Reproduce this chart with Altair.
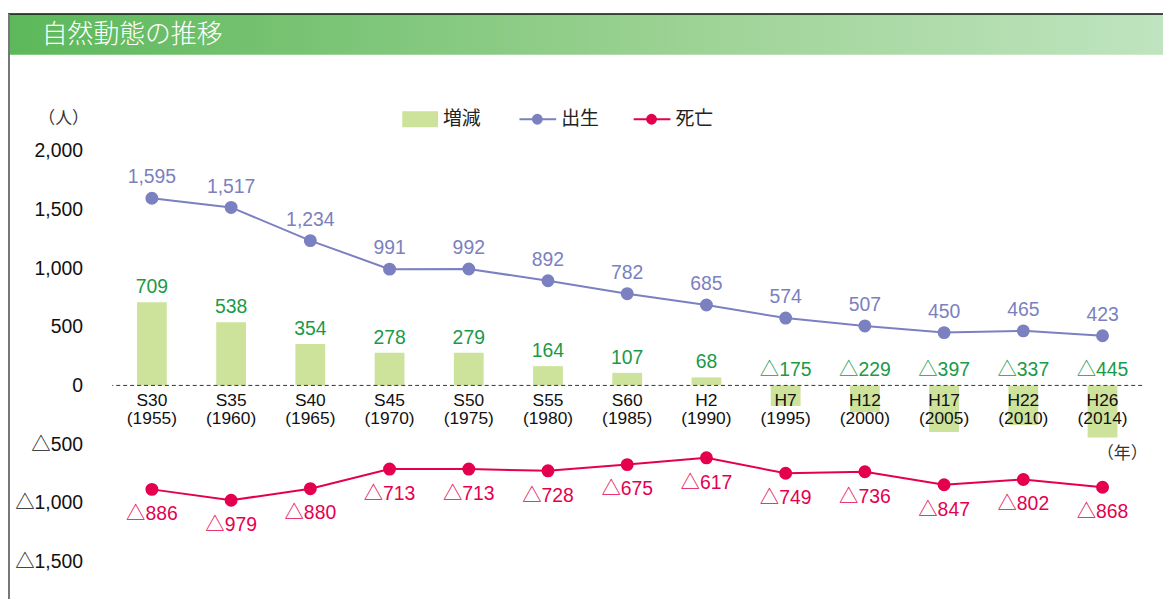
import altair as alt
import pandas as pd

# ---- data ----
era = ["S30", "S35", "S40", "S45", "S50", "S55", "S60", "H2", "H7", "H12", "H17", "H22", "H26"]
year = ["(1955)", "(1960)", "(1965)", "(1970)", "(1975)", "(1980)", "(1985)", "(1990)",
        "(1995)", "(2000)", "(2005)", "(2010)", "(2014)"]
births = [1595, 1517, 1234, 991, 992, 892, 782, 685, 574, 507, 450, 465, 423]
deaths = [-886, -979, -880, -713, -713, -728, -675, -617, -749, -736, -847, -802, -868]
change = [709, 538, 354, 278, 279, 164, 107, 68, -175, -229, -397, -337, -445]
y_ticks = [-1500, -1000, -500, 0, 500, 1000, 1500, 2000]

df = pd.DataFrame({"era": era, "year": year, "births": births, "deaths": deaths, "change": change})

W, H = 1037, 508
FONT = "Liberation Sans, Arial, Noto Sans CJK JP"
JFONT = "Noto Sans CJK JP"
BAR = "#cde29b"
BLUE = "#7b80c0"
RED = "#e5004f"
GREEN = "#1a9a48"

xenc = alt.X("era:N", sort=era, axis=None, scale=alt.Scale(paddingInner=0.62, paddingOuter=0.31))
yscale = alt.Scale(domain=[-1600, 2700], nice=False, zero=False)

def num_label(field):
    return f"datum.{field} < 0 ? '△' + format(-datum.{field}, ',') : format(datum.{field}, ',')"

base = alt.Chart(df)

bars = base.mark_bar(color=BAR, size=30).encode(
    x=xenc,
    y=alt.Y("change:Q", scale=yscale, title=None,
            axis=alt.Axis(values=y_ticks, grid=False, domain=False, ticks=False,
                          labelPadding=30, labelFontSize=19.5, labelFont=FONT, labelColor="#111",
                          labelExpr="datum.value < 0 ? '△' + format(-datum.value, ',') : format(datum.value, ',')")),
)

zero = alt.Chart(pd.DataFrame({"z": [0]})).mark_rule(color="#333", strokeDash=[4, 3], strokeWidth=1).encode(
    y=alt.Y("z:Q", scale=yscale)
)

bar_lbl = base.transform_calculate(
    ly="max(datum.change, 0)",
    txt=num_label("change"),
).mark_text(color=GREEN, fontSize=19.5, font=FONT, baseline="bottom", dy=-5).encode(
    x=xenc, y=alt.Y("ly:Q", scale=yscale), text="txt:N"
)

cat1 = base.transform_calculate(z="0").mark_text(color="#111", fontSize=17.5, font=FONT, baseline="middle", dy=16).encode(
    x=xenc, y=alt.Y("z:Q", scale=yscale), text="era:N"
)
cat2 = base.transform_calculate(z="0").mark_text(color="#111", fontSize=17.5, font=FONT, baseline="middle", dy=34).encode(
    x=xenc, y=alt.Y("z:Q", scale=yscale), text="year:N"
)

b_line = base.mark_line(color=BLUE, strokeWidth=2).encode(x=xenc, y=alt.Y("births:Q", scale=yscale))
b_pts = base.mark_circle(color=BLUE, size=170, opacity=1).encode(x=xenc, y=alt.Y("births:Q", scale=yscale))
b_lbl = base.transform_calculate(txt=num_label("births")).mark_text(
    color=BLUE, fontSize=19.5, font=FONT, baseline="middle", dy=-21).encode(
    x=xenc, y=alt.Y("births:Q", scale=yscale), text="txt:N")

d_line = base.mark_line(color=RED, strokeWidth=2).encode(x=xenc, y=alt.Y("deaths:Q", scale=yscale))
d_pts = base.mark_circle(color=RED, size=170, opacity=1).encode(x=xenc, y=alt.Y("deaths:Q", scale=yscale))
d_lbl = base.transform_calculate(txt=num_label("deaths")).mark_text(
    color=RED, fontSize=19.5, font=FONT, baseline="middle", dy=25).encode(
    x=xenc, y=alt.Y("deaths:Q", scale=yscale), text="txt:N")

# ---- decorations (header, frame, unit labels, legend) ----
one = pd.DataFrame({"a": [0]})
grad = alt.LinearGradient(gradient="linear", x1=0, x2=1, y1=0, y2=0,
                          stops=[alt.GradientStop(color="#5cb85a", offset=0),
                                 alt.GradientStop(color="#9ed396", offset=0.6),
                                 alt.GradientStop(color="#bfe4bf", offset=1)])
header = alt.Chart(one).mark_rect(fill=grad).encode(
    x=alt.value(-105), x2=alt.value(1058), y=alt.value(-55), y2=alt.value(-14))
top_line = alt.Chart(one).mark_rule(color="#111", strokeWidth=1.5).encode(
    x=alt.value(-105), x2=alt.value(1058), y=alt.value(-55))
left_line = alt.Chart(one).mark_rule(color="#777", strokeWidth=2).encode(
    x=alt.value(-104), y=alt.value(-55), y2=alt.value(H + 60))
title = alt.Chart(one).mark_text(text="自然動態の推移", color="white", fontSize=26, font=JFONT,
                                 fontWeight=300, align="left", baseline="middle").encode(
    x=alt.value(-71), y=alt.value(-34))
unit_y = alt.Chart(one).mark_text(text="（人）", color="#333", fontSize=17, font=JFONT,
                                  align="center", baseline="middle").encode(x=alt.value(-49), y=alt.value(51))
unit_x = alt.Chart(one).mark_text(text="（年）", color="#333", fontSize=17, font=JFONT,
                                  align="center", baseline="middle").encode(x=alt.value(1017), y=alt.value(388))

LY = 51
leg_rect = alt.Chart(one).mark_rect(color=BAR).encode(
    x=alt.value(292), x2=alt.value(328), y=alt.value(LY - 8), y2=alt.value(LY + 8))
leg_t1 = alt.Chart(one).mark_text(text="増減", color="#222", fontSize=19, font=JFONT, align="left",
                                  baseline="middle").encode(x=alt.value(333), y=alt.value(LY))
leg_bl = alt.Chart(one).mark_rule(color=BLUE, strokeWidth=2).encode(
    x=alt.value(410), x2=alt.value(447), y=alt.value(LY))
leg_bp = alt.Chart(one).mark_circle(color=BLUE, size=120, opacity=1).encode(x=alt.value(428), y=alt.value(LY))
leg_t2 = alt.Chart(one).mark_text(text="出生", color="#222", fontSize=19, font=JFONT, align="left",
                                  baseline="middle").encode(x=alt.value(452), y=alt.value(LY))
leg_rl = alt.Chart(one).mark_rule(color=RED, strokeWidth=2).encode(
    x=alt.value(525), x2=alt.value(562), y=alt.value(LY))
leg_rp = alt.Chart(one).mark_circle(color=RED, size=120, opacity=1).encode(x=alt.value(543), y=alt.value(LY))
leg_t3 = alt.Chart(one).mark_text(text="死亡", color="#222", fontSize=19, font=JFONT, align="left",
                                  baseline="middle").encode(x=alt.value(567), y=alt.value(LY))

chart = alt.layer(
    header, top_line, left_line, title, unit_y, unit_x,
    leg_rect, leg_t1, leg_bl, leg_bp, leg_t2, leg_rl, leg_rp, leg_t3,
    bars, zero, cat1, cat2, bar_lbl,
    b_line, b_pts, b_lbl, d_line, d_pts, d_lbl,
).properties(
    width=W, height=H,
    padding={"left": 105, "top": 59, "right": 21, "bottom": 24},
    autosize=alt.AutoSizeParams(type="none"),
).configure(background="white").configure_view(stroke=None)

chart.save("out.html", embed_options={"renderer": "svg", "actions": False})
